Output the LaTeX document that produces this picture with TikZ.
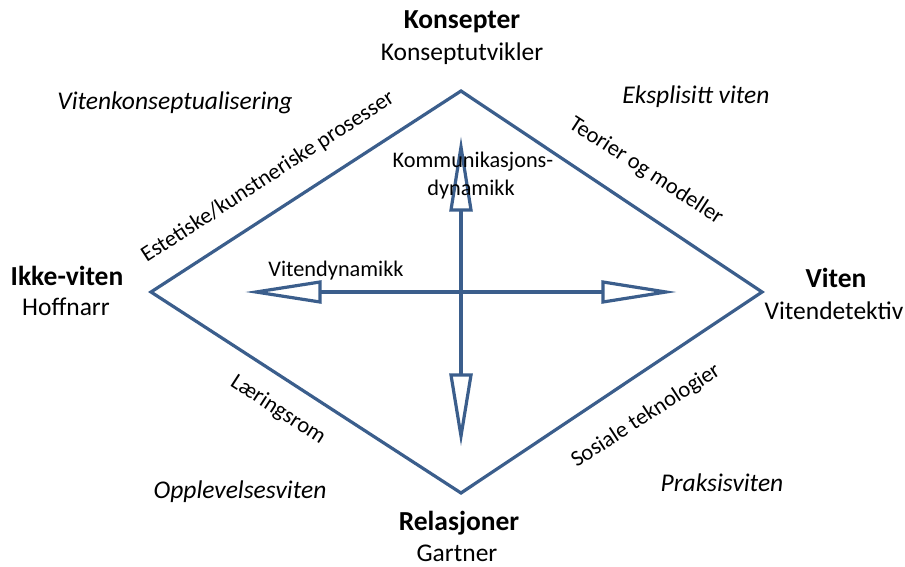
\documentclass[tikz,border=0pt]{standalone}
\usepackage{fontspec}
\setmainfont{Carlito}
\definecolor{edgeblue}{HTML}{3B5E8C}
\begin{document}
\begin{tikzpicture}[x=1pt,y=-1pt,
  frame/.style={draw=edgeblue,line width=3.2pt,line join=miter},
  shaft/.style={draw=edgeblue,line width=3.2pt},
  head/.style={draw=edgeblue,fill=white,line width=3.2pt,line join=miter},
  pole/.style={font=\fontsize{25.5}{28}\selectfont,inner sep=0pt},
  polebold/.style={font=\fontsize{27.5}{30}\selectfont\bfseries,inner sep=0pt},
  quad/.style={font=\fontsize{25.5}{28}\selectfont\itshape,inner sep=0pt},
  edgelabel/.style={font=\fontsize{22.5}{25}\selectfont,inner sep=0pt},
  inlabel/.style={font=\fontsize{22.3}{25}\selectfont,inner sep=0pt}]
\useasboundingbox (0,0) rectangle (905,567);
% corners of the diamond and its centre
\coordinate (top) at (461,91);
\coordinate (left) at (151,292);
\coordinate (right) at (762,292);
\coordinate (bottom) at (461,493);
\coordinate (c) at (461,292);
\draw[frame] (top) -- (right) -- (bottom) -- (left) -- cycle;
% arrow tips (the mitred points reach about 10pt beyond) and head bases
\coordinate (upTip) at (461,147);
\coordinate (upBase) at (461,210);
\coordinate (downTip) at (461,436);
\coordinate (downBase) at (461,375);
\coordinate (leftTip) at (256,292);
\coordinate (leftBase) at (320,292);
\coordinate (rightTip) at (666,292);
\coordinate (rightBase) at (603,292);
\draw[shaft] (upBase) -- (downBase);
\draw[shaft] (leftBase) -- (rightBase);
\draw[head] (upTip) -- ([xshift=10]upBase) -- ([xshift=-10]upBase) -- cycle;
\draw[head] (downTip) -- ([xshift=10]downBase) -- ([xshift=-10]downBase) -- cycle;
\draw[head] (leftTip) -- ([yshift=10]leftBase) -- ([yshift=-10]leftBase) -- cycle;
\draw[head] (rightTip) -- ([yshift=10]rightBase) -- ([yshift=-10]rightBase) -- cycle;
% poles
\node[polebold] (konsepter) at (462,22) {Konsepter};
\node[pole] (konseptutvikler) at (462,54) {Konseptutvikler};
\node[polebold] (ikkeviten) at (67,276) {Ikke-viten};
\node[pole] (hoffnarr) at (66,307) {Hoffnarr};
\node[polebold] (viten) at (836,278) {Viten};
\node[pole] (vitendetektiv) at (834,311) {Vitendetektiv};
\node[polebold] (relasjoner) at (459,523) {Relasjoner};
\node[pole] (gartner) at (457,553) {Gartner};
% quadrant names
\node[quad] (vkons) at (175,103) {Vitenkonseptualisering};
\node[quad] (eksplisitt) at (696,97) {Eksplisitt viten};
\node[quad] (opplevelse) at (240,492) {Opplevelsesviten};
\node[quad] (praksis) at (722,483) {Praksisviten};
% labels along the edges
\node[edgelabel,rotate=33] (estetiske) at (268,177) {Estetiske/kunstneriske prosesser};
\node[edgelabel,rotate=-33] (teorier) at (646,171) {Teorier og modeller};
\node[edgelabel,rotate=-33] (laering) at (278,410) {Læringsrom};
\node[edgelabel,rotate=33] (sosiale) at (646,416) {Sosiale teknologier};
% axis labels
\node[inlabel] (komm1) at (473,162) {Kommunikasjons-};
\node[inlabel] (komm2) at (471,190) {dynamikk};
\node[inlabel] (vitendyn) at (336,271) {Vitendynamikk};
\end{tikzpicture}
\end{document}
